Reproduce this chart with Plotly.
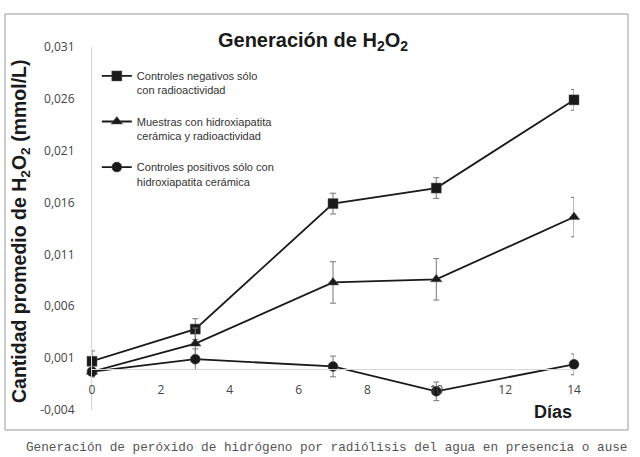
import plotly.graph_objects as go

dias = [0, 3, 7, 10, 14]
neg_ctrl = [0.0007, 0.0038, 0.0159, 0.0174, 0.0259]
neg_err = [0.0010, 0.0010, 0.0010, 0.0010, 0.0010]
muestras = [-0.0003, 0.0024, 0.0083, 0.0086, 0.0146]
muestras_err = [0.0005, 0.0015, 0.0020, 0.0020, 0.0019]
pos_ctrl = [-0.0003, 0.0009, 0.0002, -0.0022, 0.0004]
pos_err = [0.0005, 0.0010, 0.0010, 0.0009, 0.0010]

y_ticks = [-0.004, 0.001, 0.006, 0.011, 0.016, 0.021, 0.026, 0.031]
y_ticktext = ["-0,004", "0,001", "0,006", "0,011", "0,016", "0,021", "0,026", "0,031"]
x_ticks = [0, 2, 4, 6, 8, 10, 12, 14]

names = [
    "Controles negativos sólo<br>con radioactividad",
    "Muestras con hidroxiapatita<br>cerámica y radioactividad",
    "Controles positivos sólo con<br>hidroxiapatita cerámica",
]
series = [neg_ctrl, muestras, pos_ctrl]
errors = [neg_err, muestras_err, pos_err]
symbols = ["square", "triangle-up", "circle"]

fig = go.Figure()
for i, (nm, ys, er, sym) in enumerate(zip(names, series, errors, symbols)):
    fig.add_trace(go.Scatter(
        x=dias, y=ys, name=nm, mode="lines+markers",
        legendgroup=f"g{i}",
        line=dict(color="#1a1a1a", width=1.8),
        marker=dict(symbol=sym, size=10, color="#1a1a1a",
                    line=dict(color="#555555", width=0.5)),
        error_y=dict(type="data", array=er, visible=True,
                     color="#777777", thickness=1, width=3),
        cliponaxis=False,
    ))

zero_pos = (0 - (-0.004)) / (0.031 - (-0.004))

fig.update_layout(
    width=640, height=457,
    margin=dict(l=92, r=66, t=47, b=47, autoexpand=False),
    paper_bgcolor="white", plot_bgcolor="rgba(0,0,0,0)",
    font=dict(family="Liberation Sans, Arial, sans-serif", color="#333333"),
    title=dict(text="<b>Generación de H<sub>2</sub>O<sub>2</sub></b>",
               x=313 / 640, xanchor="center", y=1 - 40 / 457, yanchor="middle",
               font=dict(size=20, color="#1a1a1a"), automargin=False),
    showlegend=True,
    legend=dict(x=0.01, y=0.958, xanchor="left", yanchor="top",
                bgcolor="rgba(0,0,0,0)", valign="top", tracegroupgap=14,
                font=dict(size=11, color="#333333"), itemwidth=30),
    xaxis=dict(range=[0, 14], tickvals=x_ticks, showgrid=False,
               anchor="free", position=zero_pos, automargin=False,
               showline=True, linecolor="#d6d6d6", linewidth=1,
               zeroline=False, ticks="outside", ticklen=10, tickcolor="rgba(0,0,0,0)",
               tickfont=dict(family="Open Sans, sans-serif", size=12, color="#444444")),
    yaxis=dict(range=[-0.004, 0.031], tickvals=y_ticks, ticktext=y_ticktext,
               showgrid=False, zeroline=False, automargin=False,
               showline=True, linecolor="#d6d6d6", linewidth=1,
               ticks="outside", ticklen=14, tickcolor="rgba(0,0,0,0)",
               tickfont=dict(family="Open Sans, sans-serif", size=12, color="#444444")),
)

fig.add_shape(type="rect", xref="paper", yref="paper",
              x0=-87 / 482, x1=(628 - 92) / 482,
              y0=-(430 - 410) / 363, y1=1 + (47 - 14) / 363,
              line=dict(color="#9a9a9a", width=1))

fig.add_annotation(text="<b>Cantidad promedio de H<sub>2</sub>O<sub>2</sub> (mmol/L)</b>",
                   xref="paper", yref="paper", textangle=-90,
                   x=(21 - 92) / 482, y=(410 - 232) / 363, xanchor="center", yanchor="middle",
                   showarrow=False, font=dict(size=19.5, color="#1a1a1a"))

fig.add_annotation(text="<b>Días</b>", xref="paper", yref="paper",
                   x=1.0, y=-(412 - 410) / 363, xanchor="right", yanchor="middle",
                   showarrow=False, font=dict(size=18, color="#1a1a1a"))

fig.add_annotation(text="Generación de peróxido de hidrógeno por radiólisis del agua en presencia o ause",
                   xref="paper", yref="paper",
                   x=(24 - 92) / 482, y=-(447 - 410) / 363, xanchor="left", yanchor="middle",
                   showarrow=False, font=dict(family="Liberation Mono, Courier New, monospace",
                                              size=12.7, color="#555555"))

fig.write_html("out.html", config={"displayModeBar": False},
               post_script="document.body.style.margin='0';")
